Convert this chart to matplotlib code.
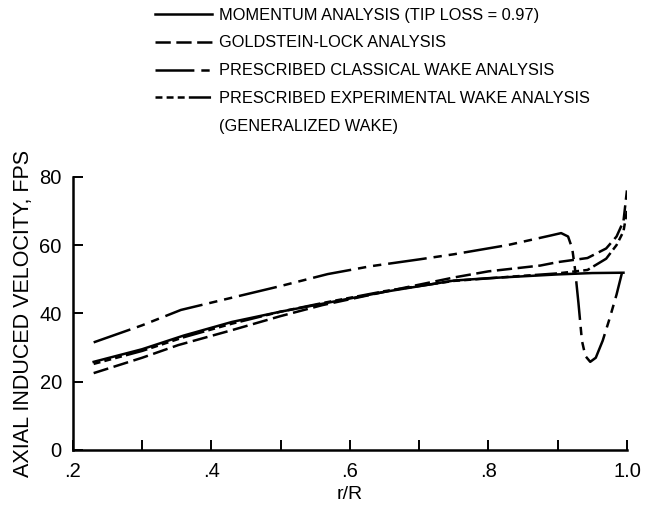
import matplotlib.pyplot as plt
from matplotlib.lines import Line2D
from matplotlib.ticker import FixedLocator

plt.rcParams['font.family'] = ['Liberation Sans', 'DejaVu Sans']
plt.rcParams['lines.scale_dashes'] = False

# momentum analysis (tip loss = 0.97)
mom_r = [0.23, 0.30, 0.36, 0.43, 0.50, 0.56, 0.65, 0.75, 0.80, 0.90, 0.95, 0.995]
mom_v = [25.8, 29.5, 33.5, 37.5, 40.5, 42.8, 46.3, 49.6, 50.3, 51.4, 51.8, 51.9]

# goldstein-lock analysis
gl_r = [0.23, 0.30, 0.352, 0.43, 0.50, 0.56, 0.65, 0.75, 0.80, 0.875, 0.90, 0.943, 0.97, 0.985, 0.995, 1.0]
gl_v = [22.5, 27.0, 30.7, 35.1, 39.2, 42.4, 46.3, 50.5, 52.3, 54.0, 55.0, 56.2, 59.0, 62.5, 67.0, 76.0]

# prescribed classical wake analysis
cl_r = [0.23, 0.30, 0.356, 0.434, 0.50, 0.568, 0.63, 0.70, 0.75, 0.828, 0.89, 0.905, 0.915,
        0.921, 0.925, 0.93, 0.935, 0.94, 0.947, 0.955, 0.965, 0.975, 0.985, 0.993]
cl_v = [31.5, 36.5, 41.0, 44.8, 48.0, 51.5, 53.8, 55.8, 57.3, 60.0, 62.8, 63.5, 62.5,
        59.0, 53.0, 43.0, 32.0, 27.5, 25.8, 27.0, 32.0, 38.5, 45.5, 52.0]

# prescribed experimental wake analysis (generalized wake)
ex_r = [0.23, 0.30, 0.36, 0.43, 0.50, 0.56, 0.65, 0.75, 0.85, 0.90, 0.943, 0.97, 0.985, 0.995, 1.0]
ex_v = [25.2, 29.0, 33.0, 37.0, 40.5, 43.0, 46.5, 49.5, 51.0, 51.7, 52.7, 56.0, 60.0, 64.0, 70.0]

labels = ["MOMENTUM ANALYSIS (TIP LOSS = 0.97)",
          "GOLDSTEIN-LOCK ANALYSIS",
          "PRESCRIBED CLASSICAL WAKE ANALYSIS",
          "PRESCRIBED EXPERIMENTAL WAKE ANALYSIS",
          "(GENERALIZED WAKE)"]

fig = plt.figure(figsize=(6.45, 5.05), dpi=100)
ax = fig.add_axes([0.113, 0.109, 0.859, 0.541])

lw = 1.8
l1, = ax.plot(mom_r, mom_v, color="black", lw=lw, linestyle="-")
l2, = ax.plot(gl_r, gl_v, color="black", lw=lw, linestyle=(0, (11, 4)))
l3, = ax.plot(cl_r, cl_v, color="black", lw=lw, linestyle=(0, (28, 5, 6, 5, 6, 5)))
l4, = ax.plot(ex_r, ex_v, color="black", lw=lw, linestyle=(0, (5, 3, 5, 3, 5, 3, 16, 3)))
blank = Line2D([], [], color="none")

ax.set_xlim(0.2, 1.0)
ax.set_ylim(0, 80)
ax.set_xticks([0.2, 0.4, 0.6, 0.8, 1.0])
ax.set_xticklabels([".2", ".4", ".6", ".8", "1.0"])
ax.xaxis.set_minor_locator(FixedLocator([0.3, 0.5, 0.7, 0.9]))
ax.set_yticks([0, 20, 40, 60, 80])
ax.tick_params(which="both", direction="in", length=7, width=1.4, labelsize=14.5)
ax.tick_params(axis="x", which="major", pad=9)
ax.tick_params(axis="y", which="major", pad=8)

for s in ["top", "right"]:
    ax.spines[s].set_visible(False)
for s in ["left", "bottom"]:
    ax.spines[s].set_linewidth(1.8)

ax.set_xlabel("r/R", fontsize=14, labelpad=3)
ax.set_ylabel("AXIAL INDUCED VELOCITY, FPS", fontsize=15.5, labelpad=4)

fig.legend([l1, l2, l3, l4, blank], labels, loc="upper left",
           bbox_to_anchor=(0.217, 1.014), frameon=False, fontsize=11.8,
           handlelength=3.5, handletextpad=0.4, labelspacing=0.78)

plt.savefig("out.png")
